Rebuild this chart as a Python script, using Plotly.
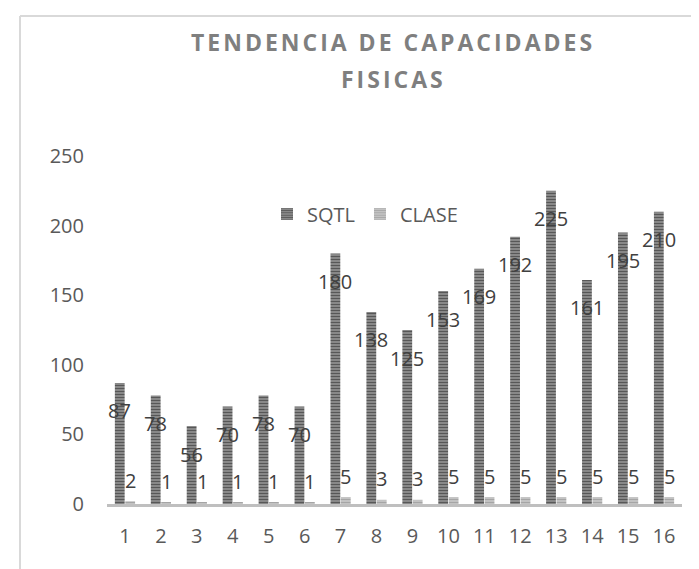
import plotly.graph_objects as go

categories = [str(i) for i in range(1, 17)]
sqtl = [87, 78, 56, 70, 78, 70, 180, 138, 125, 153, 169, 192, 225, 161, 195, 210]
clase = [2, 1, 1, 1, 1, 1, 5, 3, 3, 5, 5, 5, 5, 5, 5, 5]
y_ticks = [0, 50, 100, 150, 200, 250]
title_lines = ["TENDENCIA DE CAPACIDADES", "FISICAS"]

W, H = 699, 569
L, R, T, B = 99, 25, 148, 73
BARGAP = 0.42
FONT = "Open Sans"

xs = list(range(1, len(categories) + 1))


def px_x(p):
    return (p - L) / (W - L - R)


def px_y(p):
    return (H - B - p) / (H - T - B)


fig = go.Figure()
fig.add_trace(go.Bar(
    name="SQTL", x=xs, y=sqtl,
    marker=dict(color="#5a5a5a", line=dict(width=0),
                pattern=dict(shape="-", size=3, solidity=0.6,
                             fgcolor="#575757", bgcolor="#a8a8a8", fillmode="replace")),
))
fig.add_trace(go.Bar(
    name="CLASE", x=xs, y=clase,
    marker=dict(color="#a5a5a5", line=dict(width=0),
                pattern=dict(shape="-", size=3, solidity=0.6,
                             fgcolor="#a5a5a5", bgcolor="#d6d6d6", fillmode="replace")),
))

off = (1 - BARGAP) / 4
annotations = []
for x, v in zip(xs, sqtl):
    annotations.append(dict(x=x - off, y=v, text=str(v), showarrow=False,
                            xanchor="center", yanchor="middle", yshift=-28,
                            font=dict(family=FONT, size=20, color="#404040")))
for x, v in zip(xs, clase):
    annotations.append(dict(x=x + off, y=v, text=str(v), showarrow=False,
                            xanchor="center", yanchor="middle", yshift=21,
                            font=dict(family=FONT, size=20, color="#404040")))

# chart title (two centred lines, letter-spaced like the original)
for line, ypx in zip(title_lines, [34, 71]):
    annotations.append(dict(
        xref="paper", yref="paper", x=px_x(385), y=px_y(ypx),
        xanchor="center", yanchor="middle", showarrow=False,
        text='<span style="letter-spacing:3px">' + line + '</span>',
        font=dict(family=FONT, size=23, color="#7f7f7f", weight="bold")))

shapes = [
    dict(type="line", xref="paper", yref="paper", x0=px_x(12), x1=px_x(W + 5),
         y0=px_y(8), y1=px_y(8), line=dict(color="#d9d9d9", width=2)),
    dict(type="line", xref="paper", yref="paper", x0=px_x(12), x1=px_x(12),
         y0=px_y(8), y1=px_y(H + 5), line=dict(color="#d9d9d9", width=2)),
]

fig.update_layout(
    width=W, height=H,
    margin=dict(l=L, r=R, t=T, b=B, autoexpand=False),
    paper_bgcolor="white", plot_bgcolor="white",
    barmode="group", bargap=BARGAP, bargroupgap=0.06,
    font=dict(family=FONT, size=20, color="#595959"),
    showlegend=True,
    legend=dict(orientation="h", x=px_x(259), xanchor="left", y=px_y(206), yanchor="middle",
                bgcolor="rgba(0,0,0,0)", font=dict(family=FONT, size=20, color="#595959"),
                itemwidth=30, traceorder="normal"),
    xaxis=dict(range=[0.5, len(categories) + 0.5], tickmode="array", tickvals=xs,
               ticktext=categories, showgrid=False, zeroline=False,
               showline=True, linecolor="#bfbfbf", linewidth=3,
               ticks="", ticklabelstandoff=12,
               tickfont=dict(family=FONT, size=20, color="#595959")),
    yaxis=dict(range=[0, 250], tickmode="array", tickvals=y_ticks,
               showgrid=False, zeroline=False, showline=False, ticks="",
               ticklabelstandoff=22,
               tickfont=dict(family=FONT, size=20, color="#595959")),
    annotations=annotations,
    shapes=shapes,
)

fig.write_html("out.html")
